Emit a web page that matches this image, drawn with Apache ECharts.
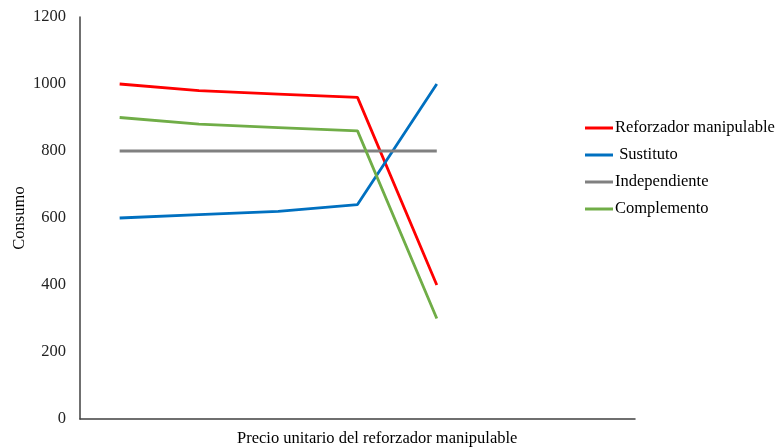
<!DOCTYPE html>
<html>
<head>
<meta charset="utf-8">
<script src="https://cdn.jsdelivr.net/npm/echarts@6/dist/echarts.min.js"></script>
<style>html,body{margin:0;padding:0;background:#fff;}#c{width:778px;height:448px;}</style>
</head>
<body>
<div id="c"></div>
<script>
var categories = ['1', '2', '3', '4', '5', '6', '7'];
var reforzador = [1000, 980, 970, 960, 400];
var sustituto = [600, 610, 620, 640, 1000];
var independiente = [800, 800, 800, 800, 800];
var complemento = [900, 880, 870, 860, 300];
var yTicks = [0, 200, 400, 600, 800, 1000, 1200];

var font = 'Liberation Serif';
var fs = 16.5;
var chart = echarts.init(document.getElementById('c'));
function mk(name, data, color) {
  return {
    name: name, type: 'line', data: data, symbol: 'none',
    lineStyle: { color: color, width: 2.8 }, itemStyle: { color: color },
    animation: false
  };
}
chart.setOption({
  animation: false,
  grid: { left: 80, right: 143, top: 17, bottom: 29, containLabel: false, outerBoundsMode: 'none' },
  xAxis: {
    type: 'category', data: categories, boundaryGap: true,
    axisLine: { lineStyle: { color: '#404040', width: 1.5 } },
    axisTick: { show: false }, axisLabel: { show: false }
  },
  yAxis: {
    type: 'value', min: yTicks[0], max: yTicks[yTicks.length - 1], interval: 200,
    name: 'Consumo', nameLocation: 'middle', nameGap: 60, nameRotate: 90, nameMoveOverlap: false,
    nameTextStyle: { fontFamily: font, fontSize: fs, color: '#000', verticalAlign: 'middle' },
    axisLine: { show: true, lineStyle: { color: '#404040', width: 1.5 } },
    axisTick: { show: false }, splitLine: { show: false },
    axisLabel: { fontFamily: font, fontSize: fs, color: '#222', margin: 14,
      formatter: function (v) { return String(v); } }
  },
  legend: {
    orient: 'vertical', left: 580, top: 114, itemWidth: 28, itemHeight: 3, itemGap: 9,
    icon: 'rect',
    textStyle: { fontFamily: font, fontSize: fs, lineHeight: 18, color: '#000', padding: [0, 0, 0, -3] },
    data: ['Reforzador manipulable', ' Sustituto', 'Independiente', 'Complemento']
  },
  graphic: [{
    type: 'text', left: 237, top: 430,
    style: { text: 'Precio unitario del reforzador manipulable', font: fs + 'px "Liberation Serif"', fill: '#000' }
  }],
  series: [
    mk('Reforzador manipulable', reforzador, '#FF0000'),
    mk(' Sustituto', sustituto, '#0070C0'),
    mk('Independiente', independiente, '#808080'),
    mk('Complemento', complemento, '#70AD47')
  ]
});
</script>
</body>
</html>
